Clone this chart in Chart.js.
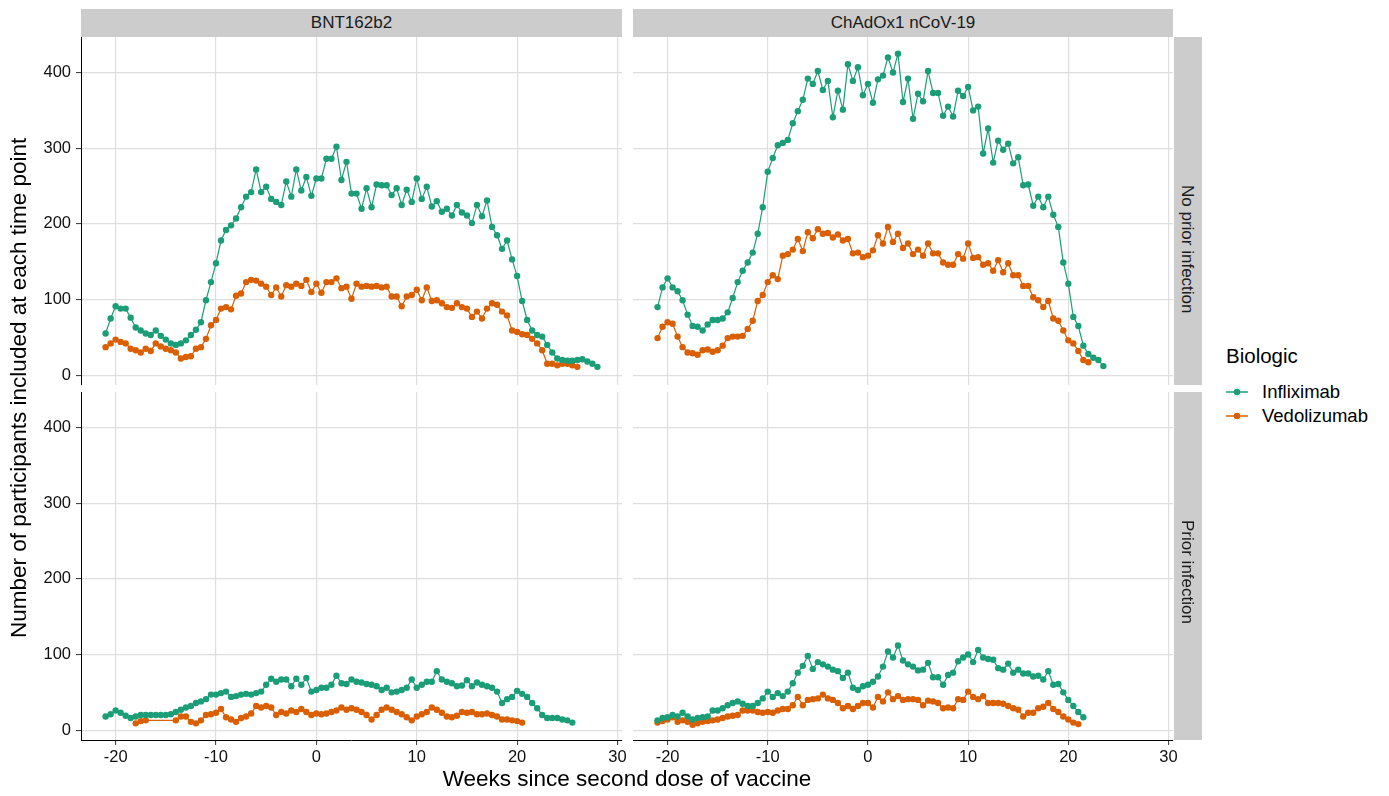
<!DOCTYPE html>
<html>
<head>
<meta charset="utf-8">
<script src="https://cdn.jsdelivr.net/npm/chart.js@4.4.1/dist/chart.umd.min.js"></script>
<style>
  body { margin: 0; background: #fff; font-family: "Liberation Sans", Arial, sans-serif; }
  #wrap { position: relative; width: 1389px; height: 796px; overflow: hidden; }
  canvas { position: absolute; }
  .strip { position: absolute; background: #cccccc; color: #1a1a1a; font-size: 17px; }
  .stripTop { display: flex; align-items: center; justify-content: center; }
  .vtext { position: absolute; white-space: nowrap; transform-origin: 0 0; }
  .title { position: absolute; color: #000; font-size: 22.5px; white-space: nowrap; }
  .legend { position: absolute; left: 1226px; top: 344px; color: #000; }
  .legend .lt { font-size: 20.5px; margin-bottom: 12px; }
  .legend .it { display: flex; align-items: center; font-size: 18.5px; height: 24px; }
  .legend svg { margin-right: 14px; }
</style>
</head>
<body>
<div id="wrap"></div>
<script>
// weeks since second dose (half-week steps)
const weeks = [-21, -20.5, -20, -19.5, -19, -18.5, -18, -17.5, -17, -16.5,
  -16, -15.5, -15, -14.5, -14, -13.5, -13, -12.5, -12, -11.5,
  -11, -10.5, -10, -9.5, -9, -8.5, -8, -7.5, -7, -6.5,
  -6, -5.5, -5, -4.5, -4, -3.5, -3, -2.5, -2, -1.5,
  -1, -0.5, 0, 0.5, 1, 1.5, 2, 2.5, 3, 3.5,
  4, 4.5, 5, 5.5, 6, 6.5, 7, 7.5, 8, 8.5,
  9, 9.5, 10, 10.5, 11, 11.5, 12, 12.5, 13, 13.5,
  14, 14.5, 15, 15.5, 16, 16.5, 17, 17.5, 18, 18.5,
  19, 19.5, 20, 20.5, 21, 21.5, 22, 22.5, 23, 23.5,
  24, 24.5, 25, 25.5, 26, 26.5, 27, 27.5, 28];

const xTicks = [-20, -10, 0, 10, 20, 30];
const yTicks = [0, 100, 200, 300, 400];

// BNT162b2, no prior infection
const bntInfNo = [55, 75, 91, 88, 88, 76, 63, 59, 55, 53,
  59, 52, 47, 42, 40, 42, 46, 53, 60, 70,
  99, 123, 148, 178, 192, 198, 207, 222, 236, 242,
  272, 242, 249, 233, 229, 225, 256, 236, 272, 244,
  262, 237, 260, 260, 286, 286, 302, 258, 282, 240,
  240, 220, 247, 222, 252, 251, 251, 238, 247, 225,
  245, 229, 260, 233, 249, 223, 230, 216, 220, 211,
  225, 215, 211, 201, 225, 210, 231, 196, 185, 167,
  178, 153, 131, 98, 73, 59, 53, 51, 40, 30,
  22, 20, 19, 19, 20, 21, 18, 15, 11];
const bntVedNo = [37, 42, 47, 44, 42, 35, 33, 30, 35, 32,
  42, 38, 35, 33, 30, 22, 24, 25, 35, 37,
  48, 66, 73, 88, 90, 87, 105, 108, 123, 126,
  125, 121, 117, 106, 116, 104, 119, 117, 121, 118,
  126, 110, 121, 109, 123, 123, 128, 115, 117, 101,
  121, 117, 118, 117, 118, 116, 117, 104, 104, 91,
  104, 106, 113, 99, 116, 98, 99, 95, 90, 89,
  95, 90, 88, 77, 84, 75, 88, 95, 93, 84,
  79, 59, 57, 54, 53, 48, 42, 33, 15, 15,
  13, 15, 15, 13, 11];

// ChAdOx1 nCoV-19, no prior infection
const chaInfNo = [90, 116, 128, 116, 111, 99, 80, 65, 64, 59,
  67, 73, 73, 75, 83, 102, 123, 138, 149, 162,
  187, 222, 269, 287, 304, 307, 311, 333, 349, 364,
  392, 385, 402, 377, 389, 341, 376, 351, 411, 389,
  407, 370, 385, 360, 391, 396, 420, 400, 425, 361,
  392, 339, 372, 362, 402, 373, 373, 343, 355, 342,
  376, 369, 381, 350, 355, 293, 326, 281, 310, 298,
  306, 280, 288, 251, 252, 224, 236, 222, 236, 212,
  196, 149, 121, 77, 65, 39, 28, 23, 20, 12];
const chaVedNo = [49, 64, 70, 68, 51, 37, 30, 29, 27, 33,
  34, 31, 33, 39, 49, 51, 51, 52, 61, 72,
  98, 106, 123, 132, 127, 158, 160, 166, 180, 164,
  189, 181, 193, 187, 188, 182, 186, 178, 180, 161,
  162, 156, 158, 165, 185, 174, 196, 176, 187, 168,
  174, 160, 166, 158, 174, 161, 161, 149, 146, 146,
  160, 154, 174, 155, 156, 146, 148, 138, 152, 136,
  148, 132, 132, 118, 118, 103, 99, 90, 98, 75,
  72, 59, 46, 42, 32, 20, 17];

// BNT162b2, prior infection
const bntInfPrior = [18, 21, 26, 23, 19, 16, 18, 20, 20, 20,
  20, 20, 20, 21, 24, 27, 30, 32, 36, 38,
  41, 47, 47, 49, 51, 44, 45, 47, 48, 47,
  49, 51, 60, 68, 64, 67, 67, 58, 68, 60,
  69, 51, 53, 56, 56, 60, 72, 62, 61, 67,
  64, 63, 61, 60, 58, 53, 56, 50, 51, 53,
  56, 67, 56, 60, 64, 64, 78, 67, 64, 62,
  58, 59, 66, 58, 63, 60, 58, 56, 51, 36,
  41, 44, 52, 48, 44, 36, 29, 20, 16, 16,
  16, 14, 13, 10];
const bntVedPrior = [null, null, null, null, null, null, 9, 12, 13, null,
  null, null, null, null, 13, 18, 18, 11, 9, 13,
  20, 21, 23, 28, 17, 14, 11, 16, 18, 22,
  32, 30, 32, 30, 20, 24, 22, 26, 24, 28,
  24, 20, 22, 21, 22, 24, 26, 30, 27, 29,
  27, 24, 20, 14, 20, 27, 30, 27, 24, 21,
  17, 13, 18, 21, 24, 30, 27, 23, 18, 17,
  19, 24, 23, 24, 21, 21, 22, 20, 18, 14,
  14, 13, 12, 10];

// ChAdOx1 nCoV-19, prior infection
const chaInfPrior = [13, 16, 17, 20, 18, 23, 18, 14, 16, 17,
  18, 26, 26, 29, 33, 36, 38, 35, 32, 32,
  36, 42, 51, 44, 49, 45, 51, 62, 76, 85,
  98, 81, 90, 87, 84, 80, 78, 69, 76, 56,
  53, 58, 60, 64, 71, 84, 104, 96, 112, 92,
  87, 84, 79, 80, 89, 70, 70, 60, 73, 76,
  91, 96, 100, 90, 106, 96, 94, 93, 82, 80,
  88, 76, 80, 75, 75, 71, 72, 67, 78, 60,
  61, 50, 40, 32, 24, 17];
const chaVedPrior = [10, 12, 14, 17, 11, 13, 11, 7, 9, 11,
  12, 13, 14, 16, 18, 19, 20, 26, 26, 26,
  24, 23, 24, 23, 26, 28, 28, 33, 44, 33,
  40, 41, 42, 47, 42, 40, 36, 29, 32, 28,
  32, 36, 36, 30, 44, 38, 50, 41, 45, 40,
  41, 41, 40, 33, 39, 38, 36, 29, 30, 29,
  41, 40, 51, 44, 41, 45, 36, 36, 36, 35,
  32, 29, 27, 18, 23, 23, 29, 31, 36, 28,
  24, 18, 14, 10, 8];

const seriesNames = ['Infliximab', 'Vedolizumab'];
const colors = ['#1b9e77', '#d95f02'];

const wrap = document.getElementById('wrap');

// panel geometry (plot areas)
const colX = [[81, 622], [633, 1173]];
const rowY = [[37, 385], [392, 740]];
const yAxisW = 81, xAxisH = 40, pad = 22;

function toPoints(vals) {
  const pts = [];
  vals.forEach((v, i) => { if (v !== null && v !== undefined) pts.push({ x: weeks[i], y: v }); });
  return pts;
}

function makePanel(col, row, inf, ved) {
  const showY = col === 0, showX = row === 1;
  const [x0, x1] = colX[col], [y0, y1] = rowY[row];
  // canvas is bigger than the plot area; layout padding keeps the area fixed
  const padL = showY ? 0 : pad, padB = showX ? 0 : pad;
  const left = x0 - (showY ? yAxisW : pad);
  const top = y0 - pad;
  const w = (x1 - left) + pad;
  const h = (y1 - top) + (showX ? xAxisH : pad);
  const cv = document.createElement('canvas');
  cv.width = w; cv.height = h;
  cv.style.left = left + 'px'; cv.style.top = top + 'px';
  cv.style.width = w + 'px'; cv.style.height = h + 'px';
  wrap.appendChild(cv);

  new Chart(cv, {
    type: 'line',
    data: {
      datasets: [inf, ved].map((vals, k) => ({
        label: seriesNames[k],
        data: toPoints(vals),
        borderColor: colors[k],
        backgroundColor: colors[k],
        borderWidth: 1.2,
        pointRadius: 3.2,
        pointBorderWidth: 0,
        pointHoverRadius: 0,
        spanGaps: true,
        tension: 0
      }))
    },
    options: {
      responsive: false,
      animation: false,
      events: [],
      layout: { padding: { left: padL, top: pad, bottom: padB, right: pad } },
      plugins: { legend: { display: false }, tooltip: { enabled: false } },
      scales: {
        x: {
          type: 'linear', min: -23.45, max: 30.45,
          afterBuildTicks: s => { s.ticks = xTicks.map(v => ({ value: v })); },
          afterFit: s => { s.height = showX ? xAxisH : 0; },
          grid: { color: '#dedede', lineWidth: 1.2, drawTicks: showX, tickLength: 5, tickColor: '#333', tickWidth: 1 },
          border: { display: showX, color: '#000', width: 1 },
          ticks: { display: showX, color: '#111', padding: 3, maxRotation: 0, font: { family: 'Liberation Sans', size: 16.5 } }
        },
        y: {
          type: 'linear', min: -13, max: 447,
          afterBuildTicks: s => { s.ticks = yTicks.map(v => ({ value: v })); },
          afterFit: s => { s.width = showY ? yAxisW : 0; },
          grid: { color: '#dedede', lineWidth: 1.2, drawTicks: showY, tickLength: 5, tickColor: '#333', tickWidth: 1 },
          border: { display: showY, color: '#000', width: 1 },
          ticks: { display: showY, color: '#111', padding: 5, font: { family: 'Liberation Sans', size: 16.5 } }
        }
      }
    }
  });
}

makePanel(0, 0, bntInfNo, bntVedNo);
makePanel(1, 0, chaInfNo, chaVedNo);
makePanel(0, 1, bntInfPrior, bntVedPrior);
makePanel(1, 1, chaInfPrior, chaVedPrior);

// facet strips
function addDiv(cls, css, text) {
  const d = document.createElement('div');
  d.className = cls;
  Object.assign(d.style, css);
  if (text) d.textContent = text;
  wrap.appendChild(d);
  return d;
}
const colLabels = ['BNT162b2', 'ChAdOx1 nCoV-19'];
colLabels.forEach((t, i) => {
  addDiv('strip stripTop', { left: colX[i][0] + 'px', top: '9px', width: (colX[i][1] - colX[i][0]) + 'px', height: (rowY[0][0] - 9) + 'px' }, t);
});
const rowLabels = ['No prior infection', 'Prior infection'];
const rowCenters = [249, 572];
rowLabels.forEach((t, i) => {
  const s = addDiv('strip', { left: '1174px', top: rowY[i][0] + 'px', width: '28px', height: (rowY[i][1] - rowY[i][0]) + 'px' });
  const v = document.createElement('div');
  v.className = 'vtext';
  v.textContent = t;
  s.appendChild(v);
  const wdt = v.getBoundingClientRect().width;
  v.style.left = '23px';
  v.style.top = (rowCenters[i] - rowY[i][0] - wdt / 2) + 'px';
  v.style.transform = 'rotate(90deg)';
});

// axis titles
const xt = addDiv('title', {}, 'Weeks since second dose of vaccine');
xt.style.left = ((colX[0][0] + colX[1][1]) / 2 - xt.getBoundingClientRect().width / 2) + 'px';
xt.style.top = '766px';
const yt = addDiv('title', {}, 'Number of participants included at each time point');
const ytw = yt.getBoundingClientRect().width;
yt.style.transformOrigin = '0 0';
yt.style.transform = 'rotate(-90deg)';
yt.style.left = '6px';
yt.style.top = (388 + ytw / 2) + 'px';

// legend
const lg = addDiv('legend', {});
const lt = document.createElement('div');
lt.className = 'lt'; lt.textContent = 'Biologic';
lg.appendChild(lt);
seriesNames.forEach((n, k) => {
  const it = document.createElement('div');
  it.className = 'it';
  it.innerHTML = '<svg width="22" height="10"><line x1="0" y1="5" x2="22" y2="5" stroke="' + colors[k] +
    '" stroke-width="1.5"/><circle cx="11" cy="5" r="3.2" fill="' + colors[k] + '"/></svg>';
  const sp = document.createElement('span');
  sp.textContent = n;
  it.appendChild(sp);
  lg.appendChild(it);
});
</script>
</body>
</html>
